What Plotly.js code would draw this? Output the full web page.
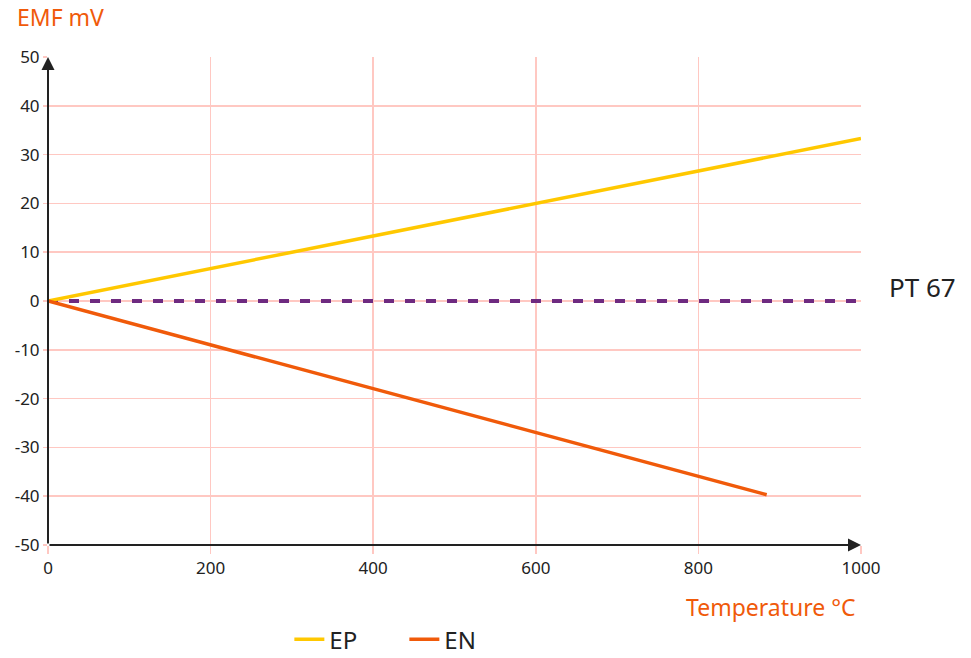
<!DOCTYPE html>
<html><head><meta charset="utf-8">
<script src="https://cdn.plot.ly/plotly-3.0.1.min.js"></script>
<style>html,body{margin:0;padding:0;background:#fff}#chart{width:971px;height:658px}</style>
</head><body><div id="chart"></div>
<script>
const epTemp = [0, 1000];
const epValues = [0, 33.3];
const enTemp = [0, 884];
const enValues = [0, -39.7];
const ptTemp = [0, 1000];
const ptValues = [0, 0];
const xTicks = [0, 200, 400, 600, 800, 1000];
const yTicks = [-50, -40, -30, -20, -10, 0, 10, 20, 30, 40, 50];

const font = "Noto Sans, DejaVu Sans, sans-serif";
const orange = "#f05a0a";
const yellow = "#ffc800";
const purple = "#6e2a80";
const grid = "#ffc8c2";

const traces = [
  {x: ptTemp, y: ptValues, mode: "lines", line: {color: purple, width: 4, dash: "10px,11px"}, showlegend: false, hoverinfo: "skip"},
  {x: epTemp, y: epValues, mode: "lines", name: "EP", line: {color: yellow, width: 3.5}},
  {x: enTemp, y: enValues, mode: "lines", name: "EN", line: {color: orange, width: 3.5}}
];

const layout = {
  width: 971, height: 658,
  margin: {l: 48, r: 110, t: 57, b: 113, autoexpand: false},
  paper_bgcolor: "#fff", plot_bgcolor: "#fff",
  font: {family: font, color: "#222", size: 17},
  showlegend: true,
  legend: {orientation: "h", x: 0.298, xref: "container", xanchor: "left", y: 0.062, yref: "container", yanchor: "top",
    font: {size: 24, color: "#222"}, entrywidth: 70, entrywidthmode: "pixels", tracegroupgap: 0},
  xaxis: {range: [0, 1000], tickvals: xTicks, ticktext: xTicks.map(String), showgrid: true, gridcolor: grid, gridwidth: 1.5,
    zeroline: false, showline: false, ticks: "outside", ticklen: 8, tickcolor: grid, tickwidth: 1.5, tickfont: {size: 17, color: "#222"}, fixedrange: true},
  yaxis: {range: [-50, 50], tickvals: yTicks, ticktext: yTicks.map(String), showgrid: true, gridcolor: grid, gridwidth: 1.5,
    zeroline: false, showline: false, ticks: "outside", ticklen: 4, tickcolor: grid, tickwidth: 1.5, tickfont: {size: 17, color: "#222"}, fixedrange: true},
  annotations: [
    {x: 1000, y: -50, xref: "x", yref: "y", ax: 0, ay: -50, axref: "x", ayref: "y", showarrow: true, arrowhead: 2, arrowsize: 1.3, arrowwidth: 2, arrowcolor: "#222", text: ""},
    {x: 0, y: 50, xref: "x", yref: "y", ax: 0, ay: -50, axref: "x", ayref: "y", showarrow: true, arrowhead: 2, arrowsize: 1.3, arrowwidth: 2, arrowcolor: "#222", text: ""},
    {x: 0, y: 1, xref: "paper", yref: "paper", xanchor: "left", yanchor: "bottom", xshift: -33, yshift: 22, text: "EMF mV", showarrow: false, font: {size: 23, color: orange}},
    {x: 1, y: 0, xref: "paper", yref: "paper", xanchor: "right", yanchor: "top", xshift: -3, yshift: -44, text: "Temperature °C", showarrow: false, font: {size: 23, color: orange}},
    {x: 1, y: 0, xref: "paper", yref: "y", xanchor: "left", yanchor: "middle", xshift: 26, yshift: 14, text: "PT 67", showarrow: false, font: {size: 26, color: "#222"}}
  ]
};

Plotly.newPlot("chart", traces, layout, {displayModeBar: false, staticPlot: true});
</script>
</body></html>
